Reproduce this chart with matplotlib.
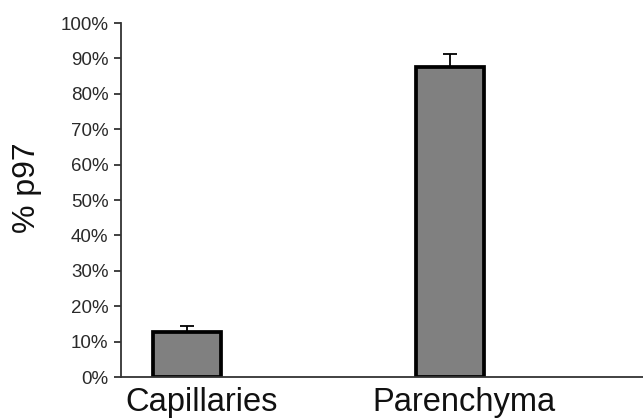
import matplotlib.pyplot as plt
import matplotlib.transforms as mtransforms
import numpy as np

plt.rcParams['font.family'] = ['Liberation Sans', 'DejaVu Sans']

# Datos
categorias = ["Capillaries", "Parenchyma"]
porcentajes = [12.7, 87.6]
errores = [1.8, 3.6]
ticks_y = np.arange(0, 101, 10)

fig = plt.figure(figsize=(6.43, 4.19), dpi=100)
ax = fig.add_axes([0.188, 0.1, 0.812, 0.845])

x = np.arange(len(categorias))
ax.bar(x, porcentajes, width=0.26, color='#808080', edgecolor='black', linewidth=2.7,
       yerr=[np.zeros(len(errores)), errores], capsize=5,
       error_kw=dict(ecolor='black', elinewidth=1.3, capthick=1.3))

ax.set_xlim(-0.253, 1.735)
ax.set_ylim(0, 100)
ax.set_yticks(ticks_y)
ax.set_yticklabels([f"{t}%" for t in ticks_y], fontsize=13.5, color='#2a2a2a')
ax.set_xticks(x)
ax.set_xticklabels(categorias, fontsize=23.5, color='#111111')
ax.tick_params(axis='x', length=0, pad=7)
ax.tick_params(axis='y', length=5, width=1.3, pad=4, direction='out', color='#333333')

# etiquetas del eje x un poco corridas a la derecha
desplazamiento = mtransforms.ScaledTranslation(14 / 100, 0, fig.dpi_scale_trans)
for etiqueta in ax.get_xticklabels():
    etiqueta.set_transform(etiqueta.get_transform() + desplazamiento)

ax.set_ylabel("% p97", fontsize=23, color='#111111')
ax.yaxis.set_label_coords(-0.152, 0.535)

for s in ['top', 'right']:
    ax.spines[s].set_visible(False)
for s in ['left', 'bottom']:
    ax.spines[s].set_linewidth(1.3)
    ax.spines[s].set_color('#333333')

fig.savefig("out.png", dpi=100)
